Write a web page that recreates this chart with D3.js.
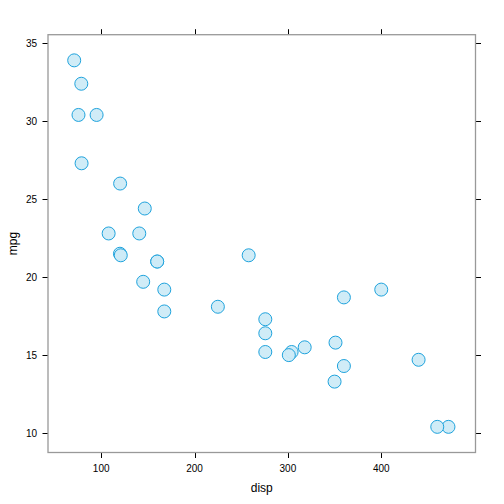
<!DOCTYPE html>
<html><head><meta charset="utf-8">
<script src="https://cdn.jsdelivr.net/npm/d3@7"></script>
<style>body{margin:0;background:#fff}svg{display:block;font-family:"Liberation Sans",Arial,sans-serif}</style>
</head><body>
<svg id="c" width="504" height="504"></svg>
<script>
const disp = [160,160,108,258,360,225,360,146.7,140.8,167.6,167.6,275.8,275.8,275.8,472,460,440,78.7,75.7,71.1,120.1,318,304,350,400,79,120.3,95.1,351,145,301,121];
const mpg = [21.0,21.0,22.8,21.4,18.7,18.1,14.3,24.4,22.8,19.2,17.8,16.4,17.3,15.2,10.4,10.4,14.7,32.4,30.4,33.9,21.5,15.5,15.2,13.3,19.2,27.3,26.0,30.4,15.8,19.7,15.0,21.4];
const xTicks = [100,200,300,400];
const yTicks = [10,15,20,25,30,35];

const svg = d3.select("#c");
const L = 48, R = 475.5, T = 34.7, B = 452.5;
const x = d3.scaleLinear().domain([43.04, 500.96]).range([L, R]);
const y = d3.scaleLinear().domain([8.755, 35.545]).range([B, T]);

// ticks on all four sides
const tk = 5.5;
const g = svg.append("g").attr("stroke", "#000").attr("stroke-width", 1);
xTicks.forEach(v => {
  const px = Math.round(x(v)) + 0.5;
  g.append("line").attr("x1", px).attr("x2", px).attr("y1", B).attr("y2", B + tk);
  g.append("line").attr("x1", px).attr("x2", px).attr("y1", T).attr("y2", T - tk);
});
yTicks.forEach(v => {
  const py = Math.round(y(v)) + 0.5;
  g.append("line").attr("y1", py).attr("y2", py).attr("x1", L).attr("x2", L - tk);
  g.append("line").attr("y1", py).attr("y2", py).attr("x1", R).attr("x2", R + tk);
});
svg.append("g").selectAll("text").data(xTicks).join("text")
  .attr("x", d => x(d)).attr("y", B + 19).attr("text-anchor", "middle")
  .attr("font-size", 10).attr("fill", "#000").text(d => d);
svg.append("g").selectAll("text").data(yTicks).join("text")
  .attr("x", L - 11).attr("y", d => y(d) + 3.6).attr("text-anchor", "end")
  .attr("font-size", 10).attr("fill", "#000").text(d => d);

// panel box
svg.append("rect").attr("x", L).attr("y", T).attr("width", R - L).attr("height", B - T)
  .attr("fill", "none").attr("stroke", "#999").attr("stroke-width", 1.3);

// points
svg.append("g").selectAll("circle").data(disp.map((d, i) => [d, mpg[i]])).join("circle")
  .attr("cx", d => x(d[0])).attr("cy", d => y(d[1])).attr("r", 6.5)
  .attr("fill", "#cdebf7").attr("fill-opacity", 0.95).attr("stroke", "#1fa3dd").attr("stroke-width", 1);

// axis labels
svg.append("text").attr("x", (L + R) / 2).attr("y", 492).attr("text-anchor", "middle")
  .attr("font-size", 12).attr("fill", "#000").text("disp");
svg.append("text").attr("transform", `translate(17,${(T + B) / 2}) rotate(-90)`)
  .attr("text-anchor", "middle").attr("font-size", 12).attr("fill", "#000").text("mpg");
</script>
</body></html>
